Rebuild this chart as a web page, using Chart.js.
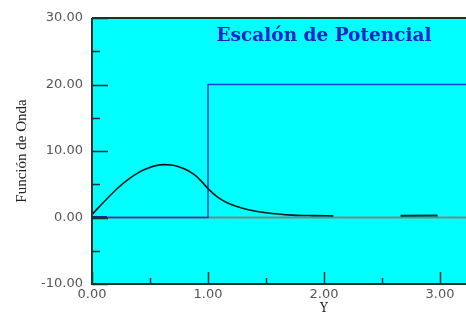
<!DOCTYPE html>
<html>
<head>
<meta charset="utf-8">
<script src="https://cdn.jsdelivr.net/npm/chart.js@4.4.0/dist/chart.umd.min.js"></script>
<style>
html,body{margin:0;padding:0;background:#fff;overflow:hidden;width:466px;height:314px;}
#wrap{position:relative;width:580px;height:320px;}
</style>
</head>
<body>
<div id="wrap"><canvas id="c" width="580" height="320"></canvas></div>
<script>
// ---- data ----
const chartTitle = "Escalón de Potencial";
const xTitle = "Y";
const yTitle = "Función de Onda";
const xTickValues = [0, 1, 2, 3, 4];
const xMinorTicks = [0.5, 1.5, 2.5, 3.5];
const yTickValues = [-10, 0, 10, 20, 30];
const yMinorTicks = [-5, 5, 15, 25];

const stepX = [0, 1, 1, 4];
const stepY = [0, 0, 20, 20];

const zeroLineX = [0, 4];
const zeroLineY = [0, 0];

const startMarkX = [0, 0.13];
const startMarkY = [0, 0];

const psiX = [0, 0.07, 0.14, 0.22, 0.31, 0.4, 0.48, 0.55, 0.62, 0.68, 0.74, 0.8, 0.885, 0.94, 1.0, 1.08, 1.16, 1.25, 1.33, 1.5, 1.73, 1.9, 2.08];
const psiY = [0.45, 1.75, 3.0, 4.4, 5.7, 6.75, 7.4, 7.8, 7.95, 7.9, 7.68, 7.28, 6.4, 5.5, 4.35, 3.1, 2.25, 1.65, 1.25, 0.72, 0.36, 0.28, 0.25];

const tailX = [2.66, 2.98];
const tailY = [0.25, 0.3];

const pts = (xs, ys) => xs.map((x, i) => ({x: x, y: ys[i]}));

const framePlugin = {
  id: 'frame',
  beforeDraw(chart) {
    const {ctx, chartArea: a} = chart;
    ctx.save();
    ctx.fillStyle = '#00ffff';
    ctx.fillRect(a.left, a.top, a.right - a.left, a.bottom - a.top);
    ctx.restore();
  },
  afterDatasetsDraw(chart) {
    const {ctx, chartArea: a, scales} = chart;
    ctx.save();
    ctx.strokeStyle = '#1c3328';
    ctx.lineWidth = 2;
    ctx.beginPath();
    ctx.moveTo(a.left, a.top);
    ctx.lineTo(a.right, a.top);
    ctx.moveTo(a.left, a.top);
    ctx.lineTo(a.left, a.bottom);
    ctx.lineTo(a.right, a.bottom);
    ctx.stroke();
    ctx.lineWidth = 1.5;
    ctx.beginPath();
    yTickValues.forEach(v => {
      const y = Math.round(scales.y.getPixelForValue(v)) + 0.5;
      ctx.moveTo(a.left, y); ctx.lineTo(a.left + 16, y);
    });
    yMinorTicks.forEach(v => {
      const y = Math.round(scales.y.getPixelForValue(v)) + 0.5;
      ctx.moveTo(a.left, y); ctx.lineTo(a.left + 8, y);
    });
    xTickValues.forEach(v => {
      const x = Math.round(scales.x.getPixelForValue(v)) + 0.5;
      ctx.moveTo(x, a.bottom); ctx.lineTo(x, a.bottom - 12);
    });
    xMinorTicks.forEach(v => {
      const x = Math.round(scales.x.getPixelForValue(v)) + 0.5;
      ctx.moveTo(x, a.bottom); ctx.lineTo(x, a.bottom - 6);
    });
    ctx.stroke();
    // chart title inside plot area
    ctx.fillStyle = '#1a22cc';
    ctx.font = 'bold 18.5px "DejaVu Serif", serif';
    ctx.textAlign = 'center';
    ctx.textBaseline = 'middle';
    ctx.fillText(chartTitle, (a.left + a.right) / 2, 36);
    ctx.restore();
  }
};

new Chart(document.getElementById('c'), {
  type: 'scatter',
  data: {
    datasets: [
      {data: pts(zeroLineX, zeroLineY), order: 10, showLine: true, borderColor: '#6f8c8c', borderWidth: 2, pointRadius: 0},
      {data: pts(stepX, stepY), order: 5, showLine: true, borderColor: '#1f3fd0', borderWidth: 1.5, pointRadius: 0},
      {data: pts(startMarkX, startMarkY), order: 3, showLine: true, borderColor: '#0c2a8c', borderWidth: 3, pointRadius: 0},
      {data: pts(psiX, psiY), order: 1, showLine: true, borderColor: '#0a1a1a', borderWidth: 1.6, pointRadius: 0, tension: 0.4, cubicInterpolationMode: 'monotone'},
      {data: pts(tailX, tailY), order: 1, showLine: true, borderColor: '#103030', borderWidth: 2, pointRadius: 0}
    ]
  },
  options: {
    responsive: false,
    animation: false,
    devicePixelRatio: 1,
    layout: {padding: {left: 0, top: 18, right: 24, bottom: 0}},
    plugins: {legend: {display: false}, tooltip: {enabled: false}},
    scales: {
      x: {
        type: 'linear', min: 0, max: 4,
        afterBuildTicks: s => { s.ticks = xTickValues.map(v => ({value: v})); },
        afterFit: s => { s.height = 36; },
        grid: {display: false, drawTicks: false},
        border: {display: false},
        ticks: {padding: 3, color: '#555', font: {family: '"DejaVu Sans", sans-serif', size: 13},
                callback: v => v.toFixed(2), maxRotation: 0, autoSkip: false},
        title: {display: true, text: xTitle, color: '#222', font: {family: '"DejaVu Serif", serif', size: 12}, padding: {top: 0, bottom: 4}}
      },
      y: {
        type: 'linear', min: -10, max: 30,
        afterBuildTicks: s => { s.ticks = yTickValues.map(v => ({value: v})); },
        afterFit: s => { s.width = 92; },
        grid: {display: false, drawTicks: false},
        border: {display: false},
        ticks: {padding: 9, color: '#555', font: {family: '"DejaVu Sans", sans-serif', size: 13},
                callback: v => v.toFixed(2)},
        title: {display: true, text: yTitle, color: '#222', font: {family: '"Liberation Serif", serif', size: 15}, padding: {top: 13, bottom: 0}}
      }
    }
  },
  plugins: [framePlugin]
});
</script>
</body>
</html>
